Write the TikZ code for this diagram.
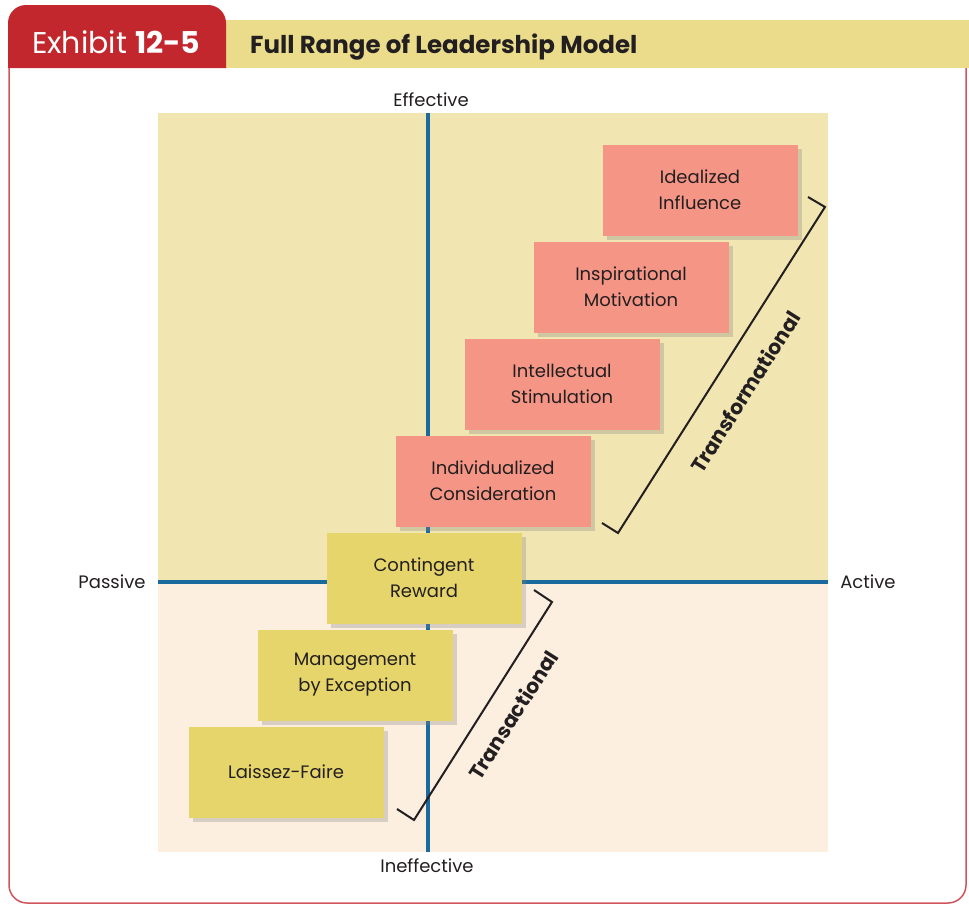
\documentclass[tikz,border=0pt]{standalone}
\usepackage{fontspec}
\setmainfont{Poppins}
\usepackage{xcolor}
\usetikzlibrary{shapes,positioning,calc,shadows}

\definecolor{exred}{HTML}{C1272D}
\definecolor{framered}{HTML}{D0545C}
\definecolor{headyellow}{HTML}{EADC8A}
\definecolor{topfill}{HTML}{F1E6B1}
\definecolor{botfill}{HTML}{FDEFDF}
\definecolor{axisblue}{HTML}{1B6A9E}
\definecolor{pinkfill}{HTML}{F59585}
\definecolor{goldfill}{HTML}{E5D56B}
\definecolor{inkgray}{HTML}{231F20}

\begin{document}
\begin{tikzpicture}[x=1pt, y=-1pt, node distance=97pt, >=latex]
    % Styles
    \tikzstyle{block} = [rectangle, minimum width=195pt, minimum height=91pt, text centered, align=center, text=inkgray, font=\fontsize{18}{26}\selectfont, drop shadow={shadow xshift=4pt, shadow yshift=-4pt, opacity=0.3}]
    \tikzstyle{lead} = [block, fill=pinkfill]
    \tikzstyle{trade} = [block, fill=goldfill]
    \tikzstyle{axis} = [draw=axisblue, line width=4pt]
    \tikzstyle{bracket} = [draw=inkgray, line width=2pt]
    \tikzstyle{pole} = [text=inkgray, font=\fontsize{18}{22}\selectfont]
    \tikzstyle{tag} = [text=inkgray, font=\bfseries\fontsize{20.5}{22}\selectfont, rotate=57.6]

    \useasboundingbox (0,0) rectangle (969,905);

    % Header and frame
    \fill[headyellow] (226,20) rectangle (969,68);
    \fill[exred] (8,68) {[rounded corners=18pt] -- (8,5) -- (226,5)} -- (226,68) -- cycle;
    \draw[framered, line width=1.5pt, rounded corners=18pt] (9,68) -- (9,903) -- (966,903) -- (966,68);
    \node[anchor=base west, inner sep=0pt, text=white, font=\fontsize{30}{32}\selectfont] (exhibit) at (32,53) {Exhibit \textbf{12-5}};
    \node[anchor=base west, inner sep=0pt, text=inkgray, font=\bfseries\fontsize{24.5}{28}\selectfont] (title) at (250,53) {Full Range of Leadership Model};

    % Quadrants
    \fill[topfill] (158,113) rectangle (828,582);
    \fill[botfill] (158,582) rectangle (828,852);
    \coordinate (north) at (428,113);
    \coordinate (south) at (428,852);
    \coordinate (west) at (158,582);
    \coordinate (east) at (828,582);
    \draw[axis] (north) -- (south);
    \draw[axis] (west) -- (east);

    \node[pole] (effective) at (431,100) {Effective};
    \node[pole] (ineffective) at (427,866) {Ineffective};
    \node[pole] (passive) at (112,582) {Passive};
    \node[pole] (active) at (868,582) {Active};

    % Nodes
    \node[lead] (ideal) at (700,190) {Idealized\\Influence};
    \node[lead, below of=ideal, xshift=-69pt] (inspire) {Inspirational\\Motivation};
    \node[lead, below of=inspire, xshift=-69pt] (intel) {Intellectual\\Stimulation};
    \node[lead, below of=intel, xshift=-69pt] (indiv) {Individualized\\Consideration};
    \node[trade, below of=indiv, xshift=-69pt] (reward) {Contingent\\Reward};
    \node[trade, below of=reward, xshift=-69pt] (except) {Management\\by Exception};
    \node[trade, below of=except, xshift=-69pt] (laissez) {Laissez-Faire};

    % Brackets
    \draw[bracket] (602,523) -- (618,533) -- (825,207) -- (808,197);
    \node[tag] (transform) at (745,392) {Transformational};
    \draw[bracket] (397,809) -- (414,820) -- (552,602) -- (534,590);
    \node[tag] (transact) at (513,715) {Transactional};
\end{tikzpicture}
\end{document}
